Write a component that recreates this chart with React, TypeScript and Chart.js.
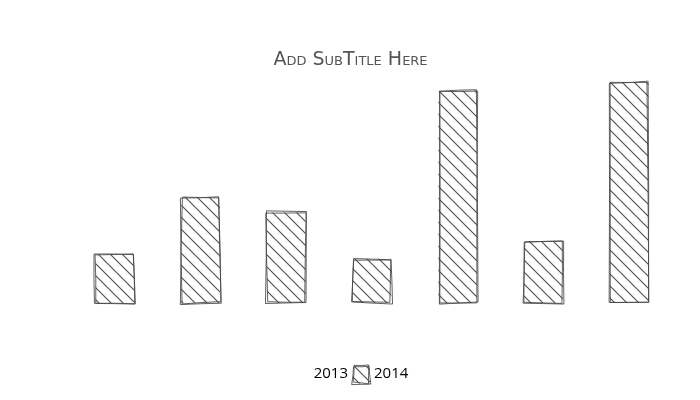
import React, { useEffect, useRef } from "react";
import { Chart, registerables } from "chart.js";

Chart.register(...registerables);

const categories = ["A", "B", "C", "D", "E", "F", "G"];
const seriesValues = [22, 48, 41, 20, 96, 28, 100];
const legendLabels = ["2013", "2014"];
const subtitle = "Add SubTitle Here";

function makeHatch(): CanvasPattern | string {
  const p = 12;
  const c = document.createElement("canvas");
  c.width = p;
  c.height = p;
  const g = c.getContext("2d");
  if (!g) return "#ddd";
  g.strokeStyle = "rgba(45,45,45,0.85)";
  g.lineWidth = 1.1;
  g.beginPath();
  g.moveTo(-1, -1);
  g.lineTo(p + 1, p + 1);
  g.moveTo(p - 2, -2);
  g.lineTo(p + 2, 2);
  g.moveTo(-2, p - 2);
  g.lineTo(2, p + 2);
  g.stroke();
  const pat = g.createPattern(c, "repeat");
  return pat || "#ddd";
}

function jit(i: number, k: number): number {
  const s = Math.sin(i * 12.9898 + k * 78.233) * 43758.5453;
  return (s - Math.floor(s)) * 2 - 1;
}

function roughRect(ctx: CanvasRenderingContext2D, l: number, t: number, r: number, b: number, seed: number) {
  ctx.save();
  ctx.strokeStyle = "rgba(70,70,70,0.85)";
  ctx.lineWidth = 1;
  for (let pass = 0; pass < 2; pass++) {
    const s = seed * 10 + pass * 5;
    const a = 1.6;
    const pts = [
      [l + jit(s, 1) * a, t + jit(s, 2) * a],
      [r + jit(s, 3) * a, t + jit(s, 4) * a],
      [r + jit(s, 5) * a, b + jit(s, 6) * a],
      [l + jit(s, 7) * a, b + jit(s, 8) * a],
    ];
    ctx.beginPath();
    for (let e = 0; e < 4; e++) {
      const p0 = pts[e];
      const p1 = pts[(e + 1) % 4];
      const mx = (p0[0] + p1[0]) / 2 + jit(s, 10 + e) * 0.8;
      const my = (p0[1] + p1[1]) / 2 + jit(s, 20 + e) * 0.8;
      ctx.moveTo(p0[0], p0[1]);
      ctx.quadraticCurveTo(mx, my, p1[0], p1[1]);
    }
    ctx.stroke();
  }
  ctx.restore();
}

let legendHatch: CanvasPattern | string = "#ddd";

const roughPlugin = {
  id: "roughOutline",
  afterDatasetsDraw(chart: any) {
    const ctx = chart.ctx as CanvasRenderingContext2D;
    chart.data.datasets.forEach((_: any, di: number) => {
      const meta = chart.getDatasetMeta(di);
      meta.data.forEach((el: any, i: number) => {
        const { x, y, base, width } = el.getProps(["x", "y", "base", "width"], true);
        roughRect(ctx, x - width / 2, y, x + width / 2, base, i + 1);
      });
    });
  },
  afterDraw(chart: any) {
    const legend = chart.legend;
    if (!legend || !legend.legendHitBoxes) return;
    const ctx = chart.ctx as CanvasRenderingContext2D;
    const hb = legend.legendHitBoxes[1];
    if (!hb) return;
    const bw = 17;
    const top = hb.top + hb.height / 2 - bw / 2 + 1;
    ctx.save();
    ctx.fillStyle = legendHatch as any;
    ctx.fillRect(hb.left, top, bw, bw);
    ctx.restore();
    roughRect(ctx, hb.left, top, hb.left + bw, top + bw, 99);
  },
};

export default function App() {
  const ref = useRef<HTMLCanvasElement | null>(null);
  useEffect(() => {
    document.body.style.margin = "0";
    const canvas = ref.current;
    if (!canvas) return;
    const hatch = makeHatch();
    legendHatch = hatch;
    const chart = new Chart(canvas, {
      type: "bar",
      data: {
        labels: categories,
        datasets: [
          {
            label: legendLabels[1],
            data: seriesValues,
            backgroundColor: hatch as any,
            borderWidth: 0,
            barPercentage: 0.45,
            categoryPercentage: 1,
          },
        ],
      },
      options: {
        responsive: false,
        animation: false,
        layout: { padding: { left: 29, right: 28, top: 0, bottom: 8 } },
        scales: {
          x: {
            display: true,
            grid: { display: false },
            border: { display: false },
            ticks: { display: false },
            afterFit: (s: any) => {
              s.height = 58;
            },
          },
          y: {
            display: true,
            min: 0,
            max: 100,
            grid: { display: false },
            border: { display: false },
            ticks: { display: false },
            afterFit: (s: any) => {
              s.width = 43;
            },
          },
        },
        plugins: {
          tooltip: { enabled: false },
          title: {
            display: true,
            text: subtitle,
            color: "#555",
            font: { family: "DejaVu Sans", size: 19, weight: "small-caps" as any },
            padding: { top: 48.6, bottom: 10.6 },
          },
          legend: {
            display: true,
            position: "bottom",
            onClick: () => {},
            labels: {
              boxWidth: 13.5,
              boxHeight: 16,
              padding: 5,
              color: "#222",
              font: { family: "Open Sans", size: 15 },
              generateLabels: () => [
                {
                  text: legendLabels[0],
                  fillStyle: "rgba(0,0,0,0)",
                  strokeStyle: "rgba(0,0,0,0)",
                  lineWidth: 0,
                  hidden: false,
                  datasetIndex: 0,
                },
                {
                  text: legendLabels[1],
                  fillStyle: "rgba(0,0,0,0)",
                  strokeStyle: "rgba(0,0,0,0)",
                  lineWidth: 0,
                  hidden: false,
                  datasetIndex: 0,
                },
              ],
            },
          },
        },
      },
      plugins: [roughPlugin],
    });
    return () => chart.destroy();
  }, []);
  return <canvas ref={ref} width={700} height={400} />;
}
